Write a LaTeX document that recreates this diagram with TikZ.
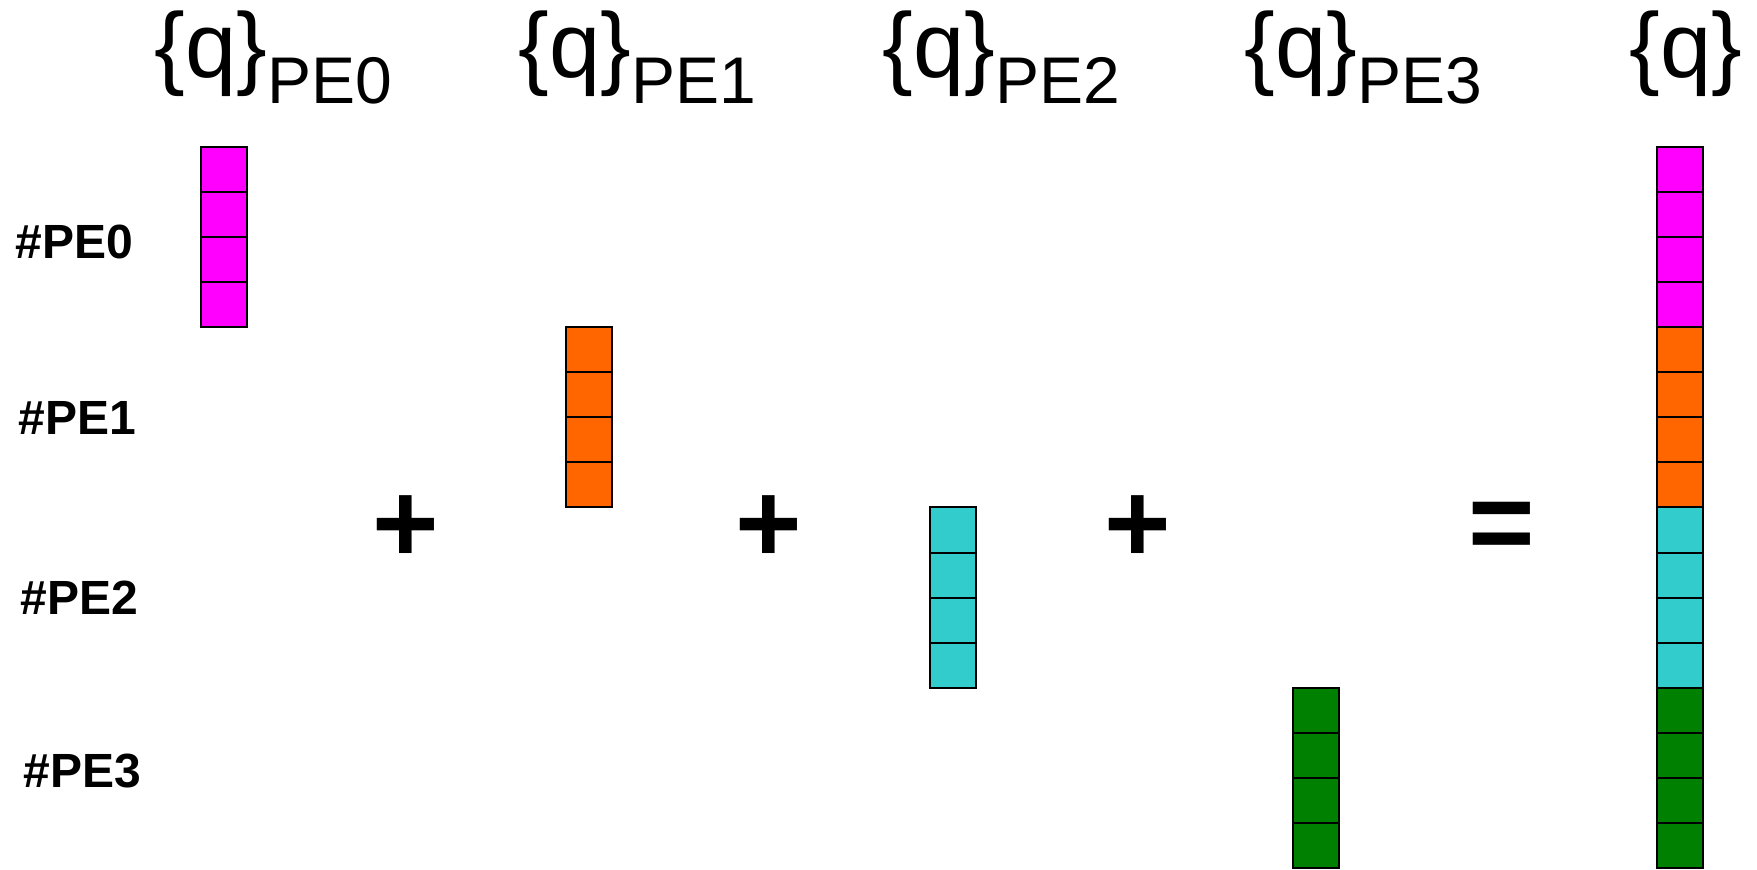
\documentclass[tikz,border=0pt]{standalone}
\usepackage{fontspec}
\setmainfont{Liberation Sans}
\usetikzlibrary{calc}
\definecolor{pemag}{HTML}{FF00FF}
\definecolor{peorange}{HTML}{FF6600}
\definecolor{pecyan}{HTML}{33CCCC}
\definecolor{pegreen}{HTML}{008000}
\begin{document}
\begin{tikzpicture}[x=0.5pt,y=-0.5pt,
  cell/.style={draw=black,line width=1pt,minimum width=23pt,minimum height=22.55pt,inner sep=0pt,outer sep=0pt},
  qmain/.style={anchor=base west,inner sep=0pt,font=\fontsize{46pt}{50pt}\selectfont},
  qsub/.style={anchor=base west,inner sep=0pt,font=\fontsize{33pt}{36pt}\selectfont},
  rowlabel/.style={anchor=base west,inner sep=0pt,font=\fontsize{24pt}{27pt}\selectfont\bfseries},
  opsign/.style={inner sep=0pt,font=\fontsize{57pt}{60pt}\selectfont\bfseries}]
\useasboundingbox (0,0) rectangle (1757,870);
\fill[white] (0,0) rectangle (1757,870);
% column headers
\node[qmain] (h0) at (154,78) {\{q\}};
\node[qsub] (s0) at ($(h0.base east)+(0,26)$) {PE0};
\node[qmain] (h1) at (518,78) {\{q\}};
\node[qsub] (s1) at ($(h1.base east)+(0,26)$) {PE1};
\node[qmain] (h2) at (882,78) {\{q\}};
\node[qsub] (s2) at ($(h2.base east)+(0,26)$) {PE2};
\node[qmain] (h3) at (1244,78) {\{q\}};
\node[qsub] (s3) at ($(h3.base east)+(0,26)$) {PE3};
\node[qmain] (hq) at (1629,78) {\{q\}};
% row labels
\node[rowlabel] (l0) at (15,259) {\#PE0};
\node[rowlabel] (l1) at (18,435) {\#PE1};
\node[rowlabel] (l2) at (20,615) {\#PE2};
\node[rowlabel] (l3) at (23,788) {\#PE3};
% local vectors, one per PE, each four cells tall
\foreach \k/\xl/\col in {0/201/pemag,1/566/peorange,2/930/pecyan,3/1293/pegreen}{
  \foreach \j in {0,...,3}{
    \node[cell,fill=\col] (c\k\j) at ({\xl+23},{146.7+(4*\k+\j+0.5)*45.1}) {};
  }
}
% assembled global vector
\foreach \k/\col in {0/pemag,1/peorange,2/pecyan,3/pegreen}{
  \foreach \j in {0,...,3}{
    \node[cell,fill=\col] (g\k\j) at (1680,{146.7+(4*\k+\j+0.5)*45.1}) {};
  }
}
% operators
\node[opsign] (p1) at (405.5,529) {+};
\node[opsign] (p2) at (769,529) {+};
\node[opsign] (p3) at (1138,529) {+};
\node[opsign] (eq) at (1502,532) {=};
\end{tikzpicture}
\end{document}
